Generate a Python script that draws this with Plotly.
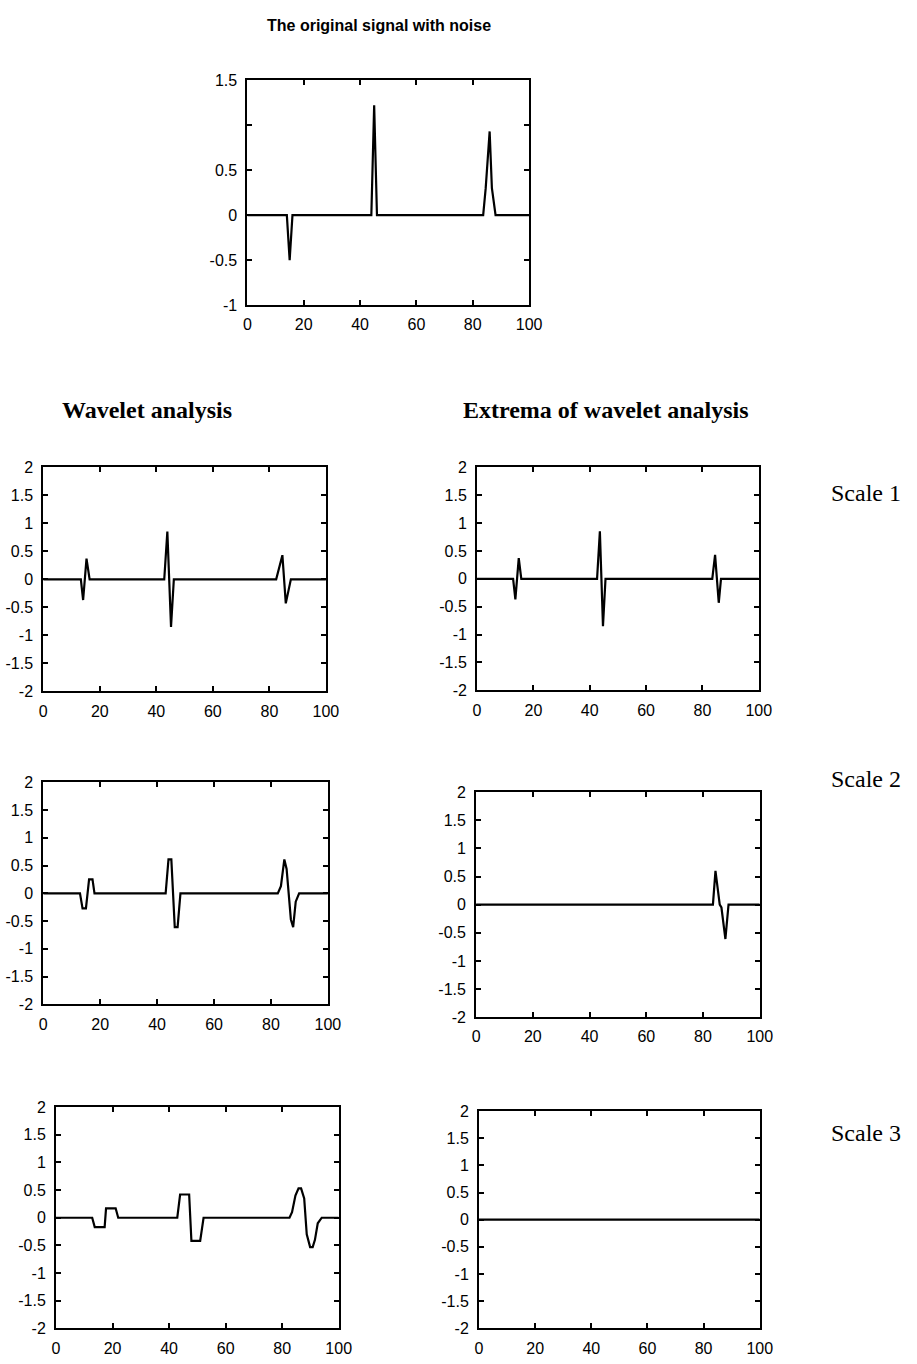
import plotly.graph_objects as go

# ---------------- data ----------------
sig_x = [0, 14, 15, 16, 44, 45, 46, 83.7, 84.6, 86.0, 86.8, 88.1, 100]
sig_y = [0, 0, -0.5, 0, 0, 1.22, 0, 0, 0.3, 0.93, 0.3, 0, 0]

w1_x = [0, 13.3, 14.1, 15.3, 16.4, 42.8, 43.9, 45.2, 46.2, 82.4, 84.6, 85.8, 87.6, 100]
w1_y = [0, 0, -0.37, 0.37, 0, 0, 0.85, -0.85, 0, 0, 0.43, -0.43, 0, 0]

e1_x = [0, 12.8, 13.6, 14.8, 15.7, 42.6, 43.6, 44.7, 45.6, 83.5, 84.5, 85.8, 86.6, 100]
e1_y = [0, 0, -0.37, 0.37, 0, 0, 0.85, -0.85, 0, 0, 0.43, -0.43, 0, 0]

w2_x = [0, 12.9, 13.8, 15.0, 16.1, 17.3, 18.0, 43.0, 44.0, 45.0, 46.2, 47.2, 48.2,
        82.4, 83.5, 84.7, 85.5, 87.0, 87.8, 88.7, 89.9, 100]
w2_y = [0, 0, -0.27, -0.27, 0.25, 0.25, 0, 0, 0.61, 0.61, -0.61, -0.61, 0,
        0, 0.13, 0.61, 0.44, -0.47, -0.61, -0.15, 0, 0]

e2_x = [0, 83.5, 84.4, 85.9, 86.5, 87.9, 89.0, 100]
e2_y = [0, 0, 0.6, 0, -0.05, -0.61, 0, 0]

w3_x = [0, 12.8, 13.7, 17.2, 17.7, 21.1, 22.0, 42.9, 43.9, 47.1, 47.9, 51.0, 52.2,
        82.6, 83.5, 84.7, 85.8, 86.7, 87.8, 88.7, 89.9, 90.8, 91.6, 92.6, 94.0, 100]
w3_y = [0, 0, -0.17, -0.17, 0.17, 0.17, 0, 0, 0.42, 0.42, -0.42, -0.42, 0,
        0, 0.1, 0.4, 0.53, 0.53, 0.35, -0.3, -0.53, -0.53, -0.4, -0.1, 0, 0]

e3_x = [0, 100]
e3_y = [0, 0]

x_ticks = [0, 20, 40, 60, 80, 100]
x_tick_text = ["0", "20", "40", "60", "80", "100"]
top_y_ticks = [-1, -0.5, 0, 0.5, 1, 1.5]
top_y_text = ["-1", "-0.5", "0", "0.5", "", "1.5"]
y_ticks = [-2, -1.5, -1, -0.5, 0, 0.5, 1, 1.5, 2]
y_tick_text = ["-2", "-1.5", "-1", "-0.5", "0", "0.5", "1", "1.5", "2"]

title_top = "The original signal with noise"
col_titles = ["Wavelet analysis", "Extrema of wavelet analysis"]
scale_labels = ["Scale 1", "Scale 2", "Scale 3"]

# ---------------- layout geometry (pixels) ----------------
W, H = 917, 1364
# (x0, x1, y_top, y_bottom)
boxes = [
    (248, 535, 73, 301),    # original signal
    (40, 328, 465, 692),    # wavelet scale 1
    (482, 769, 465, 691),   # extrema scale 1
    (40, 330, 784, 1009),   # wavelet scale 2
    (481, 770, 794, 1022),  # extrema scale 2
    (53, 341, 1113, 1337),  # wavelet scale 3
    (484, 770, 1117, 1337), # extrema scale 3
]
series = [(sig_x, sig_y), (w1_x, w1_y), (e1_x, e1_y), (w2_x, w2_y),
          (e2_x, e2_y), (w3_x, w3_y), (e3_x, e3_y)]

tick_font = dict(family="Arial, Liberation Sans, sans-serif", size=16, color="black")

fig = go.Figure()
layout = dict(
    width=W, height=H, margin=dict(l=0, r=0, t=0, b=0, pad=0),
    paper_bgcolor="white", plot_bgcolor="white", showlegend=False,
)

for i, ((x0, x1, yt, yb), (xs, ys)) in enumerate(zip(boxes, series)):
    n = "" if i == 0 else str(i + 1)
    fig.add_trace(go.Scatter(x=xs, y=ys, mode="lines",
                             line=dict(color="black", width=2.2),
                             xaxis="x" + n, yaxis="y" + n, hoverinfo="skip"))
    common = dict(showline=True, linewidth=2, linecolor="black", mirror="allticks",
                  ticks="inside", ticklen=5, tickwidth=2, tickcolor="black",
                  showgrid=False, zeroline=False, tickfont=tick_font, fixedrange=True)
    layout["xaxis" + n] = dict(domain=[x0 / W, x1 / W], range=[0, 100],
                               anchor="y" + n, tickmode="array", tickvals=x_ticks,
                               ticktext=x_tick_text, ticklabelstandoff=4, **common)
    if i == 0:
        yv, yt_txt, yr = top_y_ticks, top_y_text, [-1, 1.5]
    else:
        yv, yt_txt, yr = y_ticks, y_tick_text, [-2, 2]
    layout["yaxis" + n] = dict(domain=[1 - yb / H, 1 - yt / H], range=yr,
                               anchor="x" + n, tickmode="array", tickvals=yv,
                               ticktext=yt_txt, ticklabelstandoff=5, **common)

serif_b = dict(family="Times New Roman, Liberation Serif, serif", size=24, color="black")
serif = dict(family="Times New Roman, Liberation Serif, serif", size=24, color="black")

annotations = [
    dict(text="<b>" + title_top + "</b>", x=266 / W, y=1 - 18 / H, xref="paper", yref="paper",
         xanchor="left", yanchor="middle", showarrow=False,
         font=dict(family="Arial, Liberation Sans, sans-serif", size=16, color="black")),
    dict(text="<b>" + col_titles[0] + "</b>", x=57 / W, y=1 - 407 / H, xref="paper", yref="paper",
         xanchor="left", yanchor="middle", showarrow=False, font=serif_b),
    dict(text="<b>" + col_titles[1] + "</b>", x=466 / W, y=1 - 407 / H, xref="paper", yref="paper",
         xanchor="left", yanchor="middle", showarrow=False, font=serif_b),
]
for lab, yc in zip(scale_labels, [491, 781, 1139]):
    annotations.append(dict(text=lab, x=841 / W, y=1 - yc / H, xref="paper", yref="paper",
                            xanchor="left", yanchor="middle", showarrow=False, font=serif))
layout["annotations"] = annotations

fig.update_layout(**layout)
fig.write_html("out.html")
